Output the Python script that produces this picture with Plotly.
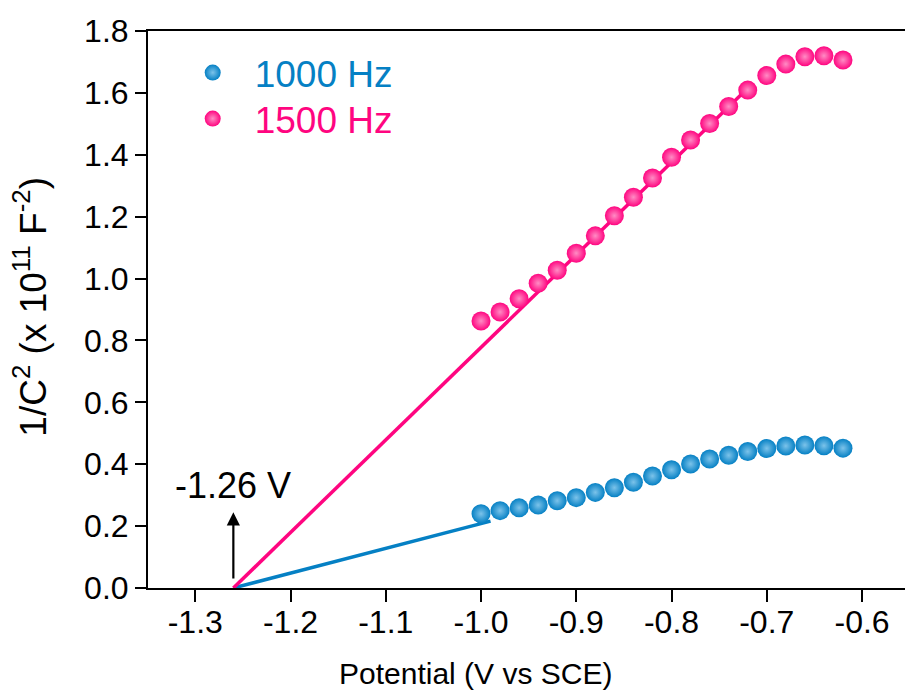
import plotly.graph_objects as go

# Mott-Schottky data: 1/C^2 (x 1e11 F^-2) against potential (V vs SCE)
potential = [-1.00, -0.98, -0.96, -0.94, -0.92, -0.90, -0.88, -0.86, -0.84, -0.82,
             -0.80, -0.78, -0.76, -0.74, -0.72, -0.70, -0.68, -0.66, -0.64, -0.62]
inv_c2_1000hz = [0.240, 0.250, 0.259, 0.268, 0.282, 0.292, 0.309, 0.324, 0.342, 0.362,
                 0.382, 0.401, 0.417, 0.429, 0.441, 0.451, 0.459, 0.462, 0.460, 0.452]
inv_c2_1500hz = [0.863, 0.892, 0.935, 0.985, 1.027, 1.082, 1.138, 1.203, 1.263, 1.325,
                 1.392, 1.448, 1.501, 1.556, 1.609, 1.656, 1.693, 1.717, 1.720, 1.706]

# Linear fits extrapolated to the flat-band potential
fit_1000hz_x = [-1.26, -0.99]
fit_1000hz_y = [0.0, 0.216]
fit_1500hz_x = [-1.26, -0.72]
fit_1500hz_y = [0.0, 1.615]
flat_band = -1.26

x_ticks = [-1.3, -1.2, -1.1, -1.0, -0.9, -0.8, -0.7, -0.6]
x_tick_text = ["-1.3", "-1.2", "-1.1", "-1.0", "-0.9", "-0.8", "-0.7", "-0.6"]
y_ticks = [0.0, 0.2, 0.4, 0.6, 0.8, 1.0, 1.2, 1.4, 1.6, 1.8]
y_tick_text = ["0.0", "0.2", "0.4", "0.6", "0.8", "1.0", "1.2", "1.4", "1.6", "1.8"]

BLUE = "#0580C4"
PINK = "#FF0580"
FONT = "Arial, Liberation Sans, sans-serif"

fig = go.Figure()

fig.add_trace(go.Scatter(x=fit_1000hz_x, y=fit_1000hz_y, mode="lines",
                         line=dict(color=BLUE, width=3.5), showlegend=False,
                         hoverinfo="skip"))
fig.add_trace(go.Scatter(x=fit_1500hz_x, y=fit_1500hz_y, mode="lines",
                         line=dict(color=PINK, width=3.5), showlegend=False,
                         hoverinfo="skip"))

fig.add_trace(go.Scatter(
    x=potential, y=inv_c2_1000hz, mode="markers", legend="legend",
    name=f"<span style='color:{BLUE}'>1000 Hz</span>",
    marker=dict(size=19, color=BLUE, line=dict(width=0),
                gradient=dict(type="radial", color="#7CC3EA")),
))
fig.add_trace(go.Scatter(
    x=potential, y=inv_c2_1500hz, mode="markers", legend="legend2",
    name=f"<span style='color:{PINK}'>1500 Hz</span>",
    marker=dict(size=19, color=PINK, line=dict(width=0),
                gradient=dict(type="radial", color="#FF8CC4")),
))

# Arrow marking the intercept on the potential axis
fig.add_annotation(x=flat_band, y=0.245, ax=flat_band, ay=0.026,
                   xref="x", yref="y", axref="x", ayref="y",
                   text="", showarrow=True, arrowhead=2, arrowsize=1.2,
                   arrowwidth=2.2, arrowcolor="black")
fig.add_annotation(x=flat_band, y=0.33, xref="x", yref="y",
                   text="-1.26 V", showarrow=False,
                   font=dict(family=FONT, size=36, color="black"))

# Axis titles
fig.add_annotation(x=0.432, y=-0.153, xref="paper", yref="paper",
                   xanchor="center", yanchor="middle", showarrow=False,
                   text="Potential (V vs SCE)",
                   font=dict(family=FONT, size=30, color="black"))
fig.add_annotation(x=-0.1546, y=0.505, xref="paper", yref="paper",
                   xanchor="center", yanchor="middle", showarrow=False,
                   textangle=-90,
                   text="1/C<sup>2</sup> (x 10<sup>11</sup> F<sup>-2</sup>)",
                   font=dict(family=FONT, size=37, color="black"))

legend_style = dict(xanchor="left", yanchor="middle",
                    bgcolor="rgba(0,0,0,0)", borderwidth=0,
                    font=dict(family=FONT, size=37),
                    itemwidth=74, tracegroupgap=0)

fig.update_layout(
    width=905, height=698,
    margin=dict(l=148, r=0, t=31, b=110),
    paper_bgcolor="white", plot_bgcolor="white",
    font=dict(family=FONT, size=32, color="black"),
    legend=dict(x=0.03, y=0.9246, **legend_style),
    legend2=dict(x=0.03, y=0.842, **legend_style),
)

fig.update_xaxes(
    range=[-1.3496, -0.5549],
    tickvals=x_ticks, ticktext=x_tick_text,
    showline=True, linecolor="black", linewidth=2, mirror=True,
    ticks="outside", ticklen=12, tickwidth=2, tickcolor="black",
    ticklabelstandoff=-7,
    showgrid=False, zeroline=False,
    tickfont=dict(family=FONT, size=32),
)
fig.update_yaxes(
    range=[0, 1.8],
    tickvals=y_ticks, ticktext=y_tick_text,
    showline=True, linecolor="black", linewidth=2,
    ticks="outside", ticklen=11, tickwidth=2, tickcolor="black",
    showgrid=False, zeroline=False,
    tickfont=dict(family=FONT, size=32),
)

fig.write_html("out.html")
